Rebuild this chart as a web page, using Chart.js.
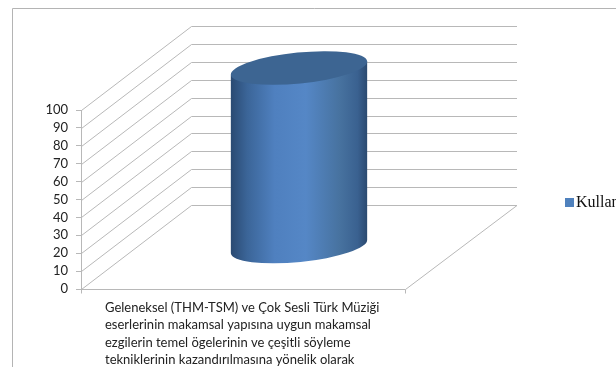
<!DOCTYPE html>
<html>
<head>
<meta charset="utf-8">
<script src="https://cdn.jsdelivr.net/npm/chart.js@4"></script>
<style>
  html, body { margin: 0; padding: 0; background: #fff; overflow: hidden; }
  #wrap { position: relative; width: 616px; height: 367px; }
</style>
</head>
<body>
<div id="wrap"><canvas id="chart" width="616" height="367"></canvas></div>
<script>
const categoryLines = [
  "Geleneksel (THM-TSM) ve Çok Sesli Türk Müziği",
  "eserlerinin makamsal yapısına uygun makamsal",
  "ezgilerin temel ögelerinin ve çeşitli söyleme",
  "tekniklerinin kazandırılmasına yönelik olarak"
];
const categories = [categoryLines.join(" ")];
const seriesName = "Kullan";
const seriesValues = [100];
const tickStep = 10;
const yMax = 100;

const depthX = 110;
const depthY = 84;
const gridColor = "#b8b8b8";

const fake3d = {
  id: "fake3d",
  beforeDatasetsDraw(chart) {
    const { ctx, chartArea: a, scales: { y } } = chart;
    ctx.save();
    ctx.strokeStyle = gridColor;
    ctx.lineWidth = 1;
    y.ticks.forEach(t => {
      const py = Math.round(y.getPixelForValue(t.value)) + 0.5;
      ctx.beginPath();
      ctx.moveTo(a.left + 0.5, py);
      ctx.lineTo(a.left + depthX + 0.5, py - depthY);
      ctx.lineTo(a.right + depthX, py - depthY);
      ctx.stroke();
    });
    // floor
    const floor = Math.round(y.getPixelForValue(0)) + 0.5;
    ctx.beginPath();
    ctx.moveTo(a.left, floor);
    ctx.lineTo(a.right - 1.5, floor);
    ctx.lineTo(a.right + depthX, floor - depthY);
    ctx.moveTo(a.right - 1.5, floor);
    ctx.lineTo(a.right - 1.5, floor + 4);
    ctx.moveTo(a.left + 0.5, floor);
    ctx.lineTo(a.left + 0.5, floor + 4);
    ctx.stroke();
    ctx.restore();
  },
  afterDatasetsDraw(chart) {
    const { ctx } = chart;
    const bar = chart.getDatasetMeta(0).data[0];
    const cx = bar.x + depthX / 2;
    const top = bar.y - depthY / 2;
    const bottom = bar.base - depthY / 2;
    const rx = bar.width / 2 + 0.5;
    const ry = 15.5;
    const tilt = -0.1;
    const edgeX = rx * Math.cos(tilt);
    const edgeY = rx * Math.sin(tilt);

    const grad = ctx.createLinearGradient(cx - edgeX, 0, cx + edgeX, 0);
    grad.addColorStop(0, "#2a4a72");
    grad.addColorStop(0.12, "#3b6598");
    grad.addColorStop(0.32, "#4f80bf");
    grad.addColorStop(0.55, "#5587c6");
    grad.addColorStop(0.8, "#47729f");
    grad.addColorStop(0.93, "#3a6190");
    grad.addColorStop(1, "#2b4a70");

    ctx.save();
    ctx.beginPath();
    ctx.moveTo(cx - edgeX, top - edgeY);
    ctx.lineTo(cx - edgeX, bottom - edgeY);
    ctx.ellipse(cx, bottom, rx, ry, tilt, Math.PI, 0, true);
    ctx.lineTo(cx + edgeX, top + edgeY);
    ctx.closePath();
    ctx.fillStyle = grad;
    ctx.fill();

    ctx.beginPath();
    ctx.ellipse(cx, top, rx, ry, tilt, 0, Math.PI * 2);
    ctx.fillStyle = "#3d6592";
    ctx.fill();
    ctx.restore();
  },
  afterDraw(chart) {
    const { ctx, chartArea: a } = chart;
    ctx.save();
    // outer frame, runs off the picture on the right and bottom
    ctx.strokeStyle = "#b4b4b4";
    ctx.beginPath();
    ctx.moveTo(12.5, 367);
    ctx.lineTo(12.5, 8.5);
    ctx.lineTo(616, 8.5);
    ctx.stroke();

    // category label, left aligned block under the axis
    ctx.fillStyle = "#222";
    ctx.font = "13px Lato";
    ctx.textBaseline = "alphabetic";
    ctx.textAlign = "left";
    categoryLines.forEach((line, i) => {
      ctx.fillText(line, a.left + 24, 312 + i * 17.3);
    });

    // legend
    ctx.fillStyle = "#4f81bd";
    ctx.fillRect(565, 198, 9, 9);
    ctx.fillStyle = "#111";
    ctx.font = "16px 'Liberation Serif'";
    ctx.fillText(chart.data.datasets[0].label, 576, 207);
    ctx.restore();
  }
};

new Chart(document.getElementById("chart"), {
  type: "bar",
  plugins: [fake3d],
  data: {
    labels: categories,
    datasets: [{
      label: seriesName,
      data: seriesValues,
      backgroundColor: "rgba(0,0,0,0)",
      barPercentage: 136 / 326,
      categoryPercentage: 1
    }]
  },
  options: {
    responsive: false,
    animation: false,
    layout: { padding: { left: 0, top: 110, right: 209, bottom: 78 } },
    plugins: { legend: { display: false }, tooltip: { enabled: false } },
    scales: {
      x: { display: false },
      y: {
        min: 0,
        max: yMax,
        afterFit(scale) { scale.width = 81; },
        ticks: {
          stepSize: tickStep,
          autoSkip: false,
          color: "#222",
          padding: 8,
          font: { family: "Lato", size: 13 }
        },
        grid: { drawOnChartArea: false, color: gridColor, tickLength: 5 },
        border: { color: gridColor }
      }
    }
  }
});
</script>
</body>
</html>
